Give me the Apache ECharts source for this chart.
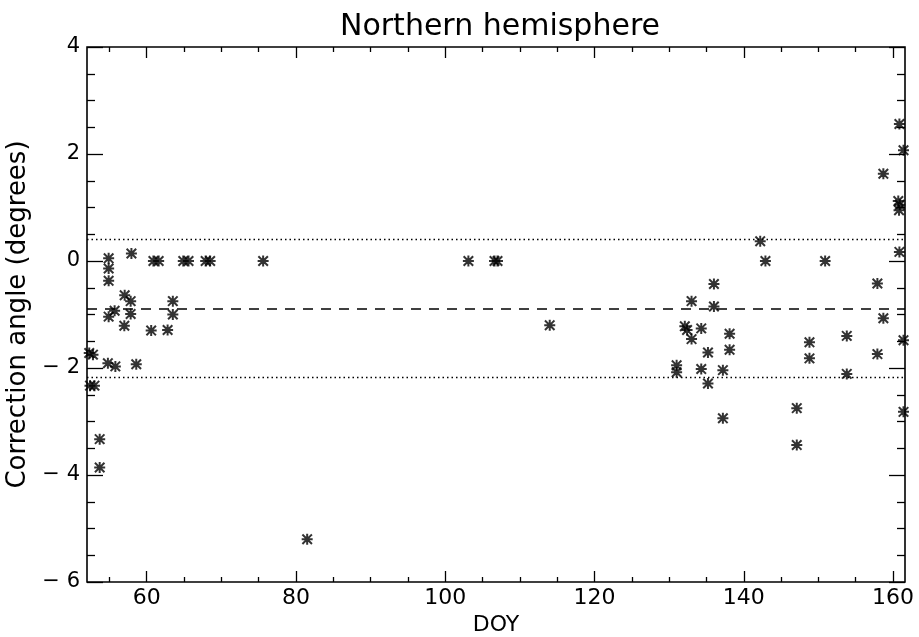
<!DOCTYPE html>
<html>
<head>
<meta charset="utf-8">
<title>Northern hemisphere</title>
<script src="https://cdn.jsdelivr.net/npm/echarts@6/dist/echarts.min.js"></script>
<style>
  html, body { margin: 0; padding: 0; background: #fff; }
  #chart { width: 919px; height: 637px; }
</style>
</head>
<body>
<div id="chart"></div>
<script>
// day of year and correction angle (degrees) for each measurement
const doy = [
  52.3, 52.8, 52.4, 53.0, 53.7, 53.7,
  54.9, 54.9, 54.9, 54.9, 55.7, 54.8, 55.8,
  57.95, 57.05, 57.85, 57.85, 57.0, 58.6,
  60.9, 61.6, 60.6, 62.8, 63.5, 63.5,
  64.9, 65.6, 67.9, 68.5,
  75.6, 81.5, 103.1, 106.6, 107.0, 114.0,
  131.0, 131.0, 132.1, 132.4, 133.0, 133.0, 134.3, 134.3, 135.2, 135.2,
  136.0, 136.0, 137.2, 137.2, 138.1, 138.1,
  142.2, 142.9, 147.1, 147.1, 148.8, 148.8, 150.9, 153.8, 153.8,
  157.9, 157.9, 158.7, 158.7,
  160.85, 161.4, 160.7, 160.9, 160.8, 160.85, 161.4, 161.4
]
const angle = [
  -1.72, -1.75, -2.33, -2.33, -3.33, -3.86,
  0.05, -0.14, -0.37, -1.04, -0.93, -1.91, -1.97,
  0.14, -0.64, -0.75, -0.99, -1.21, -1.93,
  0, 0, -1.30, -1.29, -0.75, -1.0,
  0, 0, 0, 0,
  0, -5.2, 0, 0, 0, -1.2,
  -1.95, -2.08, -1.22, -1.29, -0.75, -1.46, -1.26, -2.02, -1.71, -2.29,
  -0.43, -0.85, -2.04, -2.94, -1.36, -1.66,
  0.37, 0, -2.75, -3.44, -1.52, -1.82, 0, -1.40, -2.11,
  -0.42, -1.74, 1.63, -1.07,
  2.56, 2.07, 1.12, 1.05, 0.95, 0.17, -1.48, -2.82
]

// mean and +/- one sigma reference lines
const meanAngle = -0.885
const upperAngle = 0.40
const lowerAngle = -2.17

// axis ranges and tick labels
const xRange = [52, 161.6]
const yRange = [-6, 4]
const xMajor = [60, 80, 100, 120, 140, 160]
const xMinor = [55, 65, 70, 75, 85, 90, 95, 105, 110, 115, 125, 130, 135, 145, 150, 155]
const yMajor = [-6, -4, -2, 0, 2, 4]
const yMinor = [-5.5, -5, -4.5, -3.5, -3, -2.5, -1.5, -1, -0.5, 0.5, 1, 1.5, 2.5, 3, 3.5]

const font = "'DejaVu Sans', 'Liberation Sans', sans-serif"
const minus = v => String(v).replace('-', '\u2212 ')

function xAx (position, ticks, len, extra) {
  return Object.assign({
    type: 'value',
    position: position,
    min: xRange[0],
    max: xRange[1],
    axisLine: { show: false, onZero: false },
    splitLine: { show: false },
    axisTick: { show: true, inside: true, length: len, customValues: ticks, lineStyle: { color: '#000', width: 1.3 } },
    axisLabel: { show: false }
  }, extra || {})
}

function yAx (position, ticks, len, extra) {
  return Object.assign({
    type: 'value',
    position: position,
    min: yRange[0],
    max: yRange[1],
    axisLine: { show: false, onZero: false },
    splitLine: { show: false },
    axisTick: { show: true, inside: true, length: len, customValues: ticks, lineStyle: { color: '#000', width: 1.3 } },
    axisLabel: { show: false }
  }, extra || {})
}

const chart = echarts.init(document.getElementById('chart'))

chart.setOption({
  animation: false,
  backgroundColor: '#fff',
  textStyle: { fontFamily: font },
  title: {
    text: 'Northern hemisphere',
    left: 495,
    textAlign: 'center',
    top: 7,
    textStyle: { fontFamily: font, fontSize: 30, fontWeight: 'normal', color: '#000' }
  },
  grid: {
    left: 87,
    right: 14,
    top: 47,
    bottom: 55,
    outerBoundsMode: 'none',
    containLabel: false,
    show: true,
    borderColor: '#000',
    borderWidth: 1.6,
    backgroundColor: 'transparent'
  },
  xAxis: [
    xAx('bottom', xMajor, 11, {
      name: 'DOY',
      nameLocation: 'middle',
      nameGap: 31,
      nameTextStyle: { fontFamily: font, fontSize: 22, color: '#000' },
      axisLabel: { show: true, customValues: xMajor, margin: 5, fontSize: 22, color: '#000', fontFamily: font, formatter: minus }
    }),
    xAx('bottom', xMinor, 5),
    xAx('top', xMajor, 11),
    xAx('top', xMinor, 5)
  ],
  yAxis: [
    yAx('left', yMajor, 16, {
      name: 'Correction angle (degrees)',
      nameLocation: 'middle',
      nameGap: 48,
      nameTextStyle: { fontFamily: font, fontSize: 26, color: '#000' },
      axisLabel: { show: true, customValues: yMajor, margin: 7, fontSize: 21, color: '#000', fontFamily: font, formatter: minus }
    }),
    yAx('left', yMinor, 8),
    yAx('right', yMajor, 16),
    yAx('right', yMinor, 8)
  ],
  series: [
    {
      type: 'scatter',
      xAxisIndex: 0,
      yAxisIndex: 0,
      data: doy.map((d, i) => [d, angle[i]]),
      symbol: 'path://M0,5L10,5M5,0L5,10M0.5,0.5L9.5,9.5M9.5,0.5L0.5,9.5',
      symbolSize: 9,
      itemStyle: { color: '#000', borderColor: '#000', borderWidth: 2, borderCap: 'square' },
      markLine: {
        silent: true,
        symbol: 'none',
        label: { show: false },
        data: [
          { yAxis: upperAngle, lineStyle: { color: '#000', width: 1.3, type: [1.5, 3] } },
          { yAxis: meanAngle, lineStyle: { color: '#000', width: 1.5, type: [10, 8] } },
          { yAxis: lowerAngle, lineStyle: { color: '#000', width: 1.3, type: [1.5, 3] } }
        ]
      }
    }
  ]
})
</script>
</body>
</html>
